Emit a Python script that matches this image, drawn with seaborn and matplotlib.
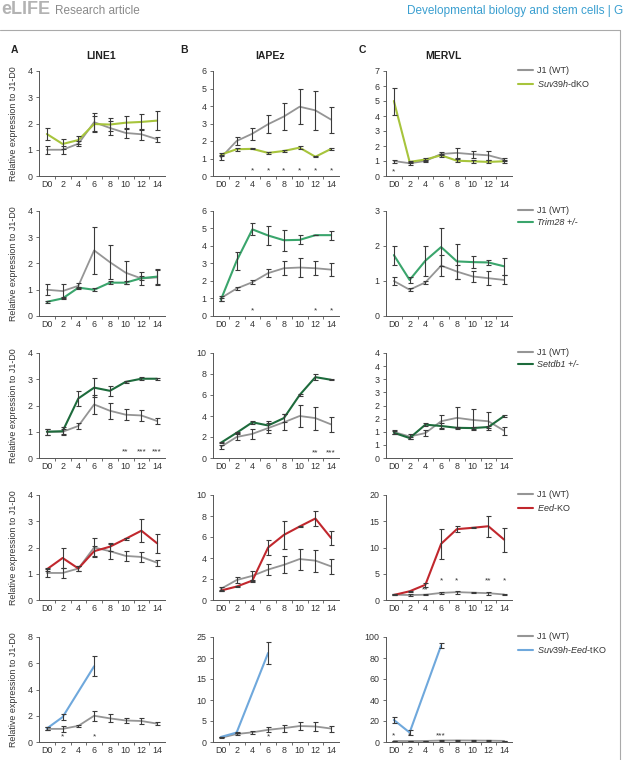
import numpy as np
import pandas as pd
import matplotlib
matplotlib.use("Agg")
import matplotlib.pyplot as plt
import seaborn as sns

sns.set_theme(style="white")
plt.rcParams['font.family'] = ['Liberation Sans', 'DejaVu Sans']
plt.rcParams['mathtext.fontset'] = 'custom'
plt.rcParams['mathtext.it'] = 'Liberation Sans:italic'
plt.rcParams['mathtext.rm'] = 'Liberation Sans'

days = ['D0', '2', '4', '6', '8', '10', '12', '14']
nan = np.nan

# ---------------- Row 1: Suv39h-dKO ----------------
r1_line1_wt = [1.0, 1.0, 1.23, 2.05, 1.83, 1.64, 1.59, 1.40]
r1_line1_wt_err = [0.15, 0.15, 0.10, 0.35, 0.25, 0.20, 0.20, 0.10]
r1_line1_ko = [1.60, 1.22, 1.37, 1.98, 1.96, 2.03, 2.06, 2.11]
r1_line1_ko_err = [0.22, 0.20, 0.15, 0.30, 0.25, 0.25, 0.30, 0.35]
r1_iap_wt = [1.05, 2.0, 2.42, 2.96, 3.40, 3.96, 3.75, 3.22]
r1_iap_wt_err = [0.15, 0.25, 0.35, 0.52, 0.75, 1.00, 1.10, 0.75]
r1_iap_ko = [1.22, 1.53, 1.55, 1.32, 1.43, 1.62, 1.10, 1.55]
r1_iap_ko_err = [0.08, 0.08, 0.03, 0.08, 0.04, 0.08, 0.04, 0.04]
r1_merv_wt = [1.0, 0.85, 1.0, 1.47, 1.54, 1.45, 1.38, 1.10]
r1_merv_wt_err = [0.10, 0.10, 0.08, 0.10, 0.35, 0.25, 0.30, 0.10]
r1_merv_ko = [5.0, 0.94, 1.10, 1.38, 1.02, 0.98, 0.94, 0.98]
r1_merv_ko_err = [0.90, 0.08, 0.08, 0.10, 0.10, 0.10, 0.10, 0.08]

# ---------------- Row 2: Trim28 +/- ----------------
r2_line1_wt = [1.0, 0.95, 1.15, 2.50, 2.05, 1.65, 1.43, 1.47]
r2_line1_wt_err = [0.20, 0.25, 0.10, 0.90, 0.65, 0.45, 0.25, 0.30]
r2_line1_ko = [0.54, 0.67, 1.08, 1.00, 1.27, 1.27, 1.44, 1.50]
r2_line1_ko_err = [0.05, 0.04, 0.04, 0.05, 0.06, 0.06, 0.08, 0.30]
r2_iap_wt = [1.02, 1.57, 1.93, 2.45, 2.73, 2.77, 2.73, 2.65]
r2_iap_wt_err = [0.15, 0.10, 0.12, 0.25, 0.40, 0.55, 0.40, 0.35]
r2_iap_ko = [0.93, 3.15, 4.95, 4.60, 4.33, 4.35, 4.62, 4.62]
r2_iap_ko_err = [0.10, 0.50, 0.35, 0.55, 0.60, 0.25, 0.02, 0.25]
r2_merv_wt = [1.0, 0.75, 0.96, 1.44, 1.27, 1.13, 1.08, 1.03]
r2_merv_wt_err = [0.12, 0.05, 0.05, 0.30, 0.20, 0.15, 0.20, 0.13]
r2_merv_ko = [1.74, 1.03, 1.58, 1.97, 1.56, 1.54, 1.53, 1.42]
r2_merv_ko_err = [0.27, 0.08, 0.43, 0.55, 0.50, 0.17, 0.07, 0.25]

# ---------------- Row 3: Setdb1 +/- ----------------
r3_line1_wt = [1.0, 1.0, 1.22, 2.04, 1.80, 1.65, 1.62, 1.41]
r3_line1_wt_err = [0.12, 0.10, 0.10, 0.35, 0.30, 0.20, 0.20, 0.12]
r3_line1_ko = [1.0, 1.02, 2.27, 2.68, 2.56, 2.90, 3.02, 3.02]
r3_line1_ko_err = [0.12, 0.15, 0.30, 0.35, 0.18, 0.05, 0.05, 0.03]
r3_iap_wt = [1.06, 2.0, 2.3, 2.85, 3.40, 4.00, 3.80, 3.20]
r3_iap_wt_err = [0.20, 0.30, 0.45, 0.45, 0.75, 1.00, 1.10, 0.75]
r3_iap_ko = [1.45, 2.40, 3.40, 3.10, 3.80, 6.00, 7.70, 7.45]
r3_iap_ko_err = [0.05, 0.05, 0.15, 0.40, 0.35, 0.05, 0.30, 0.05]
r3_merv_wt = [0.99, 0.82, 0.95, 1.40, 1.53, 1.45, 1.40, 1.04]
r3_merv_wt_err = [0.08, 0.10, 0.10, 0.25, 0.40, 0.40, 0.35, 0.15]
r3_merv_ko = [0.96, 0.76, 1.27, 1.22, 1.15, 1.14, 1.18, 1.60]
r3_merv_ko_err = [0.05, 0.05, 0.05, 0.10, 0.03, 0.03, 0.05, 0.02]

# ---------------- Row 4: Eed-KO ----------------
r4_line1_wt = [1.03, 1.03, 1.20, 2.00, 1.86, 1.68, 1.64, 1.42]
r4_line1_wt_err = [0.15, 0.18, 0.10, 0.38, 0.28, 0.20, 0.20, 0.12]
r4_line1_ko = [1.17, 1.60, 1.20, 1.86, 2.03, 2.33, 2.64, 2.16]
r4_line1_ko_err = [0.05, 0.38, 0.10, 0.20, 0.15, 0.05, 0.43, 0.37]
r4_iap_wt = [1.06, 1.90, 2.30, 2.90, 3.35, 3.90, 3.75, 3.20]
r4_iap_wt_err = [0.20, 0.30, 0.45, 0.50, 0.80, 1.00, 1.05, 0.75]
r4_iap_ko = [0.90, 1.28, 1.85, 5.00, 6.20, 7.00, 7.76, 5.90]
r4_iap_ko_err = [0.05, 0.05, 0.10, 0.70, 1.30, 0.05, 0.75, 0.70]
r4_merv_wt = [1.0, 0.95, 1.0, 1.35, 1.50, 1.40, 1.30, 1.05]
r4_merv_wt_err = [0.10, 0.10, 0.10, 0.20, 0.30, 0.15, 0.30, 0.10]
r4_merv_ko = [0.96, 1.66, 2.90, 10.70, 13.50, 13.75, 14.05, 11.50]
r4_merv_ko_err = [0.10, 0.10, 0.40, 2.90, 0.60, 0.10, 2.00, 2.30]

# ---------------- Row 5: Suv39h-Eed-tKO ----------------
r5_line1_wt = [1.0, 1.0, 1.23, 2.00, 1.80, 1.64, 1.60, 1.40]
r5_line1_wt_err = [0.12, 0.20, 0.10, 0.40, 0.30, 0.20, 0.20, 0.10]
r5_line1_ko = [1.03, 1.90, nan, 5.77, nan, nan, nan, nan]
r5_line1_ko_err = [0.10, 0.20, nan, 0.75, nan, nan, nan, nan]
r5_iap_wt = [1.0, 1.90, 2.30, 2.90, 3.30, 3.80, 3.70, 3.20]
r5_iap_wt_err = [0.15, 0.20, 0.40, 0.60, 0.80, 1.00, 1.10, 0.70]
r5_iap_ko = [1.20, 2.25, nan, 21.2, nan, nan, nan, nan]
r5_iap_ko_err = [0.10, 0.20, nan, 2.70, nan, nan, nan, nan]
r5_merv_wt = [1.0, 0.9, 1.0, 1.4, 1.5, 1.4, 1.3, 1.05]
r5_merv_wt_err = [0.10, 0.10, 0.10, 0.20, 0.30, 0.15, 0.30, 0.10]
r5_merv_ko = [21.0, 9.0, nan, 92.0, nan, nan, nan, nan]
r5_merv_ko_err = [3.0, 2.5, nan, 2.0, nan, nan, nan, nan]

col_titles = ['LINE1', 'IAPEz', 'MERVL']
panel_letters = ['A', 'B', 'C']
ko_labels = [r'$\it{Suv39h}$-dKO', 'Trim28 +/-', 'Setdb1 +/-',
             r'$\it{Eed}$-KO', r'$\it{Suv39h}$-$\it{Eed}$-tKO']
ko_italic = [False, True, True, False, False]
ko_colors = ['#a7c43c', '#3aa56c', '#1d6b3c', '#c1272d', '#6fa8dc']
wt_color = '#959595'
err_color = '#3a3a3a'

rows = [
    [(r1_line1_wt, r1_line1_wt_err, r1_line1_ko, r1_line1_ko_err),
     (r1_iap_wt, r1_iap_wt_err, r1_iap_ko, r1_iap_ko_err),
     (r1_merv_wt, r1_merv_wt_err, r1_merv_ko, r1_merv_ko_err)],
    [(r2_line1_wt, r2_line1_wt_err, r2_line1_ko, r2_line1_ko_err),
     (r2_iap_wt, r2_iap_wt_err, r2_iap_ko, r2_iap_ko_err),
     (r2_merv_wt, r2_merv_wt_err, r2_merv_ko, r2_merv_ko_err)],
    [(r3_line1_wt, r3_line1_wt_err, r3_line1_ko, r3_line1_ko_err),
     (r3_iap_wt, r3_iap_wt_err, r3_iap_ko, r3_iap_ko_err),
     (r3_merv_wt, r3_merv_wt_err, r3_merv_ko, r3_merv_ko_err)],
    [(r4_line1_wt, r4_line1_wt_err, r4_line1_ko, r4_line1_ko_err),
     (r4_iap_wt, r4_iap_wt_err, r4_iap_ko, r4_iap_ko_err),
     (r4_merv_wt, r4_merv_wt_err, r4_merv_ko, r4_merv_ko_err)],
    [(r5_line1_wt, r5_line1_wt_err, r5_line1_ko, r5_line1_ko_err),
     (r5_iap_wt, r5_iap_wt_err, r5_iap_ko, r5_iap_ko_err),
     (r5_merv_wt, r5_merv_wt_err, r5_merv_ko, r5_merv_ko_err)],
]

# y-axis tick specs (max, step)
yspecs = [
    [(4, 1), (6, 1), (7, 1)],
    [(4, 1), (6, 1), (3, 1)],
    [(4, 1), (10, 2), (4, 0.5)],
    [(4, 1), (10, 2), (20, 5)],
    [(8, 2), (25, 5), (100, 20)],
]

# significance stars: (day index, text, y value)
stars = {
    (0, 1): [(i, '*', 0.3) for i in range(2, 8)],
    (0, 2): [(0, '*', 0.3)],
    (1, 1): [(2, '*', 0.3), (6, '*', 0.3), (7, '*', 0.3)],
    (2, 0): [(5, '**', 0.25), (6, '***', 0.25), (7, '***', 0.25)],
    (2, 1): [(6, '**', 0.5), (7, '***', 0.5)],
    (3, 2): [(2, '**', 2.0), (3, '*', 3.6), (4, '*', 3.6), (6, '**', 3.6), (7, '*', 3.6)],
    (4, 0): [(1, '*', 0.4), (3, '*', 0.4)],
    (4, 1): [(3, '*', 1.3)],
    (4, 2): [(0, '*', 5.5), (1, '*', 5.5), (3, '***', 5.5)],
}

W, H = 624, 760
fig = plt.figure(figsize=(W / 100, H / 100), dpi=100)

col_left = [39, 213, 386]
ax_w = 126
row_top = [71, 211, 353, 495, 637]
ax_h = 105

for r in range(5):
    for c in range(3):
        ax = fig.add_axes([col_left[c] / W, 1 - (row_top[r] + ax_h) / H, ax_w / W, ax_h / H])
        wt, wte, ko, koe = rows[r][c]
        x = np.arange(len(days))
        df_wt = pd.DataFrame({'day': x, 'val': wt, 'err': wte}).dropna()
        df_ko = pd.DataFrame({'day': x, 'val': ko, 'err': koe}).dropna()
        sns.lineplot(data=df_wt, x='day', y='val', ax=ax, color=wt_color, lw=1.3,
                     label='J1 (WT)', zorder=2)
        sns.lineplot(data=df_ko, x='day', y='val', ax=ax, color=ko_colors[r], lw=1.5,
                     label=ko_labels[r], zorder=3)
        ax.errorbar(df_wt['day'], df_wt['val'], yerr=df_wt['err'], fmt='none',
                    ecolor=err_color, elinewidth=0.8, capsize=1.8, capthick=0.8, zorder=4)
        ax.errorbar(df_ko['day'], df_ko['val'], yerr=df_ko['err'], fmt='none',
                    ecolor=err_color, elinewidth=0.8, capsize=1.8, capthick=0.8, zorder=4)
        ymax, step = yspecs[r][c]
        ax.set_xlim(-0.5, 7.5)
        ax.set_ylim(0, ymax)
        yt = np.arange(0, ymax + step / 2, step)
        ax.set_yticks(yt)
        if step < 1:
            ax.set_yticklabels([str(int(np.floor(v + 0.5))) for v in yt])
        else:
            ax.set_yticklabels([str(int(v)) for v in yt])
        ax.set_xticks(x)
        ax.set_xticklabels(days)
        ax.set_xticks(np.arange(0.5, 7.0, 1.0), minor=True)
        ax.tick_params(axis='x', which='major', length=0, labelsize=6.4, pad=3, colors='#333333')
        ax.tick_params(axis='x', which='minor', length=2.5, width=0.6, direction='out',
                       color='#555555', bottom=True)
        ax.tick_params(axis='y', which='major', length=2.5, width=0.6, direction='out',
                       labelsize=6.4, pad=2, colors='#555555', left=True)
        for lab in ax.get_yticklabels():
            lab.set_color('#333333')
        for s in ['top', 'right']:
            ax.spines[s].set_visible(False)
        for s in ['left', 'bottom']:
            ax.spines[s].set_color('#555555')
            ax.spines[s].set_linewidth(0.7)
        ax.set_xlabel('')
        ax.set_ylabel('')
        if c == 0:
            ax.set_ylabel('Relative expression to J1-D0', fontsize=6.4, color='#333333', labelpad=7)
        for (i, t, yv) in stars.get((r, c), []):
            ax.text(i, yv, t, ha='center', va='center', fontsize=6, color='#333333')
        leg = ax.get_legend()
        if c == 2:
            handles, labels = ax.get_legend_handles_labels()
            leg = ax.legend(handles, labels, loc='upper left', bbox_to_anchor=(1.02, 1.08),
                            frameon=False, fontsize=6.5, handlelength=1.6, handletextpad=0.5,
                            labelspacing=0.3, borderaxespad=0)
            for h in leg.get_lines():
                h.set_linewidth(1.5)
            if ko_italic[r]:
                leg.get_texts()[1].set_fontstyle('italic')
            for tx in leg.get_texts():
                tx.set_color('#333333')
        elif leg is not None:
            leg.remove()

# column titles and panel letters
title_x = [101, 270, 443]
letter_x = [14, 184, 362]
for c in range(3):
    fig.text(title_x[c] / W, 1 - 56 / H, col_titles[c], ha='center', va='center',
             fontsize=7.5, fontweight='bold', color='#222222')
    fig.text(letter_x[c] / W, 1 - 50 / H, panel_letters[c], ha='center', va='center',
             fontsize=7.5, fontweight='bold', color='#222222')

# header
fig.text(1 / W, 1 - 10 / H, 'eLIFE', ha='left', va='center', fontsize=13,
         fontweight='bold', color='#b3b3b3')
fig.text(55 / W, 1 - 11 / H, 'Research article', ha='left', va='center',
         fontsize=8.5, color='#8a8a8a')
fig.text(407 / W, 1 - 11 / H, 'Developmental biology and stem cells | G', ha='left',
         va='center', fontsize=8.5, color='#3a9fd0')

# border box
fig.add_artist(plt.Line2D([0, 620 / W], [1 - 30 / H, 1 - 30 / H], transform=fig.transFigure,
                          color='#aaaaaa', lw=0.8))
fig.add_artist(plt.Line2D([620 / W, 620 / W], [0, 1 - 30 / H], transform=fig.transFigure,
                          color='#aaaaaa', lw=0.8))

fig.savefig('out.png', dpi=100)
